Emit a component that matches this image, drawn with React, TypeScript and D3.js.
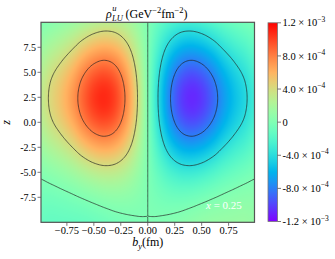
import React, { useMemo } from "react";
import * as d3 from "d3";

// grid coordinates of the field
const bGrid = [-1.0, -0.9, -0.8, -0.7, -0.6, -0.5, -0.4, -0.3, -0.2, -0.1, 0, 0.1, 0.2, 0.3, 0.4, 0.5, 0.6, 0.7, 0.8, 0.9, 1.0];
const zGrid = [10, 9, 8, 7, 6, 5, 4, 3, 2, 1, 0, -1, -2, -3, -4, -5, -6, -7, -8, -9, -10];

// rho^u_LU values in units of 1e-4 GeV^-2 fm^-2, rows follow zGrid, columns follow bGrid
const rhoLU = [
  [0.18, 0.51, 0.91, 1.41, 2.04, 2.6, 2.92, 2.82, 2.25, 1.25, 0, -1.25, -2.25, -2.82, -2.92, -2.6, -2.04, -1.41, -0.91, -0.51, -0.18],
  [0.61, 1.11, 1.65, 2.31, 3.14, 3.83, 4.17, 3.96, 3.12, 1.72, 0, -1.72, -3.12, -3.96, -4.17, -3.83, -3.14, -2.31, -1.65, -1.11, -0.61],
  [1.09, 1.78, 2.45, 3.29, 4.33, 5.17, 5.53, 5.2, 4.06, 2.24, 0, -2.24, -4.06, -5.2, -5.53, -5.17, -4.33, -3.29, -2.45, -1.78, -1.09],
  [1.58, 2.45, 3.27, 4.28, 5.55, 6.53, 6.93, 6.46, 5.03, 2.76, 0, -2.76, -5.03, -6.46, -6.93, -6.53, -5.55, -4.28, -3.27, -2.45, -1.58],
  [2.04, 3.09, 4.05, 5.23, 6.7, 7.82, 8.25, 7.66, 5.94, 3.25, 0, -3.25, -5.94, -7.66, -8.25, -7.82, -6.7, -5.23, -4.05, -3.09, -2.04],
  [2.43, 3.64, 4.72, 6.04, 7.69, 8.93, 9.38, 8.68, 6.72, 3.68, 0, -3.68, -6.72, -8.68, -9.38, -8.93, -7.69, -6.04, -4.72, -3.64, -2.43],
  [2.71, 4.05, 5.22, 6.64, 8.42, 9.76, 10.22, 9.45, 7.3, 3.99, 0, -3.99, -7.3, -9.45, -10.22, -9.76, -8.42, -6.64, -5.22, -4.05, -2.71],
  [2.89, 4.28, 5.49, 6.98, 8.83, 10.22, 10.69, 9.87, 7.63, 4.17, 0, -4.17, -7.63, -9.87, -10.69, -10.22, -8.83, -6.98, -5.49, -4.28, -2.89],
  [2.9, 4.3, 5.52, 7.01, 8.87, 10.26, 10.73, 9.91, 7.66, 4.18, 0, -4.18, -7.66, -9.91, -10.73, -10.26, -8.87, -7.01, -5.52, -4.3, -2.9],
  [2.77, 4.11, 5.29, 6.73, 8.53, 9.88, 10.35, 9.56, 7.39, 4.04, 0, -4.04, -7.39, -9.56, -10.35, -9.88, -8.53, -6.73, -5.29, -4.11, -2.77],
  [2.5, 3.74, 4.83, 6.18, 7.86, 9.12, 9.57, 8.86, 6.86, 3.75, 0, -3.75, -6.86, -8.86, -9.57, -9.12, -7.86, -6.18, -4.83, -3.74, -2.5],
  [2.12, 3.21, 4.19, 5.4, 6.91, 8.06, 8.49, 7.88, 6.11, 3.34, 0, -3.34, -6.11, -7.88, -8.49, -8.06, -6.91, -5.4, -4.19, -3.21, -2.12],
  [1.67, 2.59, 3.43, 4.48, 5.78, 6.8, 7.2, 6.71, 5.22, 2.86, 0, -2.86, -5.22, -6.71, -7.2, -6.8, -5.78, -4.48, -3.43, -2.59, -1.67],
  [1.19, 1.91, 2.61, 3.49, 4.57, 5.44, 5.81, 5.45, 4.26, 2.34, 0, -2.34, -4.26, -5.45, -5.81, -5.44, -4.57, -3.49, -2.61, -1.91, -1.19],
  [0.7, 1.25, 1.8, 2.5, 3.37, 4.09, 4.44, 4.2, 3.31, 1.82, 0, -1.82, -3.31, -4.2, -4.44, -4.09, -3.37, -2.5, -1.8, -1.25, -0.7],
  [0.26, 0.63, 1.05, 1.58, 2.25, 2.84, 3.15, 3.04, 2.42, 1.34, 0, -1.34, -2.42, -3.04, -3.15, -2.84, -2.25, -1.58, -1.05, -0.63, -0.26],
  [-0.14, 0.08, 0.39, 0.77, 1.27, 1.73, 2.03, 2.02, 1.64, 0.92, 0, -0.92, -1.64, -2.02, -2.03, -1.73, -1.27, -0.77, -0.39, -0.08, 0.14],
  [-0.46, -0.38, -0.17, 0.1, 0.45, 0.81, 1.08, 1.16, 0.99, 0.57, 0, -0.57, -0.99, -1.16, -1.08, -0.81, -0.45, -0.1, 0.17, 0.38, 0.46],
  [-0.73, -0.74, -0.62, -0.44, -0.21, 0.07, 0.33, 0.48, 0.47, 0.29, 0, -0.29, -0.47, -0.48, -0.33, -0.07, 0.21, 0.44, 0.62, 0.74, 0.73],
  [-0.92, -1.03, -0.95, -0.85, -0.71, -0.49, -0.24, -0.03, 0.07, 0.07, 0, -0.07, -0.07, 0.03, 0.24, 0.49, 0.71, 0.85, 0.95, 1.03, 0.92],
  [-1.07, -1.23, -1.2, -1.15, -1.07, -0.89, -0.65, -0.41, -0.21, -0.08, 0, 0.08, 0.21, 0.41, 0.65, 0.89, 1.07, 1.15, 1.2, 1.23, 1.07],
];

const contourLevels = [-8, -4, 0, 4, 8];
const colorDomain = [-12, 12];

const xTicks = [-0.75, -0.5, -0.25, 0, 0.25, 0.5, 0.75];
const xTickLabels = ["\u22120.75", "\u22120.50", "\u22120.25", "0.00", "0.25", "0.50", "0.75"];
const yTicks = [7.5, 5, 2.5, 0, -2.5, -5, -7.5];
const yTickLabels = ["7.5", "5.0", "2.5", "0.0", "-2.5", "-5.0", "-7.5"];

const cbTicks = [12, 8, 4, 0, -4, -8, -12];
const cbMantissa = ["1.2", "8.0", "4.0", "0", "-4.0", "-8.0", "-1.2"];
const cbExponent = ["\u22123", "\u22124", "\u22124", "", "\u22124", "\u22124", "\u22123"];

const W = 335;
const H = 259;
const PL = 41;
const PR = 254.5;
const PT = 22.3;
const PB = 222.3;
const CBX = 268;
const CBW = 9.5;
const FONT = "'Liberation Serif', 'Times New Roman', serif";

function rainbow(t: number): [number, number, number] {
  const u = Math.max(0, Math.min(1, t));
  const r = Math.min(1, Math.abs(2 * u - 0.5));
  const g = Math.sin(Math.PI * u);
  const b = Math.cos((Math.PI * u) / 2);
  return [Math.round(r * 255), Math.round(g * 255), Math.round(b * 255)];
}

const nx = bGrid.length;
const ny = zGrid.length;

function at(i: number, j: number) {
  const ii = Math.max(0, Math.min(nx - 1, i));
  const jj = Math.max(0, Math.min(ny - 1, j));
  return rhoLU[jj][ii];
}
function cr(p0: number, p1: number, p2: number, p3: number, t: number) {
  return p1 + 0.5 * t * (p2 - p0 + t * (2 * p0 - 5 * p1 + 4 * p2 - p3 + t * (3 * (p1 - p2) + p3 - p0)));
}
function sample(fx: number, fy: number) {
  const ix = Math.floor(fx);
  const iy = Math.floor(fy);
  const tx = fx - ix;
  const ty = fy - iy;
  const r = [-1, 0, 1, 2].map((dj) =>
    cr(at(ix - 1, iy + dj), at(ix, iy + dj), at(ix + 1, iy + dj), at(ix + 2, iy + dj), tx)
  );
  return cr(r[0], r[1], r[2], r[3], ty);
}

export default function App() {
  const x = d3.scaleLinear().domain([-0.99, 0.99]).range([PL, PR]);
  const y = d3.scaleLinear().domain([-10, 10]).range([PB, PT]);
  const bIdx = d3.scaleLinear().domain([bGrid[0], bGrid[nx - 1]]).range([0, nx - 1]);
  const zIdx = d3.scaleLinear().domain([zGrid[0], zGrid[ny - 1]]).range([0, ny - 1]);
  const cNorm = d3.scaleLinear().domain(colorDomain).range([0, 1]);
  const cbY = d3.scaleLinear().domain(colorDomain).range([PB - 0.8, PT + 0.5]);

  const imgUrl = useMemo(() => {
    const w = Math.ceil(PR - PL);
    const h = Math.ceil(PB - PT);
    const canvas = document.createElement("canvas");
    canvas.width = w;
    canvas.height = h;
    const ctx = canvas.getContext("2d");
    if (!ctx) return "";
    const img = ctx.createImageData(w, h);
    for (let py = 0; py < h; py++) {
      const zv = y.invert(PT + ((py + 0.5) * (PB - PT)) / h);
      const fy = zIdx(zv);
      for (let px = 0; px < w; px++) {
        const bv = x.invert(PL + ((px + 0.5) * (PR - PL)) / w);
        const v = sample(bIdx(bv), fy);
        const [r, g, b] = rainbow(cNorm(v));
        const k = (py * w + px) * 4;
        img.data[k] = r;
        img.data[k + 1] = g;
        img.data[k + 2] = b;
        img.data[k + 3] = 255;
      }
    }
    ctx.putImageData(img, 0, 0);
    return canvas.toDataURL();
  }, []);

  const contourPaths = useMemo(() => {
    const k = 8;
    const mx = (nx - 1) * k + 1;
    const my = (ny - 1) * k + 1;
    const vals = new Array(mx * my);
    for (let j = 0; j < my; j++) for (let i = 0; i < mx; i++) vals[j * mx + i] = sample(i / k, j / k);
    const gen = d3.contours().size([mx, my]).thresholds(contourLevels);
    const cs = gen(vals);
    return cs.map((c) => {
      let d = "";
      for (const poly of c.coordinates)
        for (const ring of poly) {
          ring.forEach((p, idx) => {
            const bv = bIdx.invert((p[0] - 0.5) / k);
            const zv = zIdx.invert((p[1] - 0.5) / k);
            d += (idx === 0 ? "M" : "L") + x(bv).toFixed(2) + "," + y(zv).toFixed(2);
          });
          d += "Z";
        }
      return d;
    });
  }, []);

  const stops = d3.range(0, 1.0001, 0.05).map((t) => {
    const [r, g, b] = rainbow(t);
    return { off: t, col: `rgb(${r},${g},${b})` };
  });

  const axisColor = "#555";

  return (
    <svg width={W} height={H} style={{ position: "absolute", left: 0, top: 0, background: "#fff" }} fontFamily={FONT}>
      <defs>
        <clipPath id="plotClip">
          <rect x={PL} y={PT} width={PR - PL} height={PB - PT} />
        </clipPath>
        <linearGradient id="cbGrad" x1="0" y1="1" x2="0" y2="0">
          {stops.map((s, i) => (
            <stop key={i} offset={s.off} stopColor={s.col} />
          ))}
        </linearGradient>
      </defs>

      <image href={imgUrl} x={PL} y={PT} width={PR - PL} height={PB - PT} preserveAspectRatio="none" />
      <g clipPath="url(#plotClip)">
        {contourPaths.map((d, i) => (
          <path key={i} d={d} fill="none" stroke="#222" strokeWidth={0.8} strokeOpacity={0.85} />
        ))}
      </g>
      <rect x={PL} y={PT} width={PR - PL} height={PB - PT} fill="none" stroke={axisColor} strokeWidth={1.2} />

      {/* x ticks */}
      {xTicks.map((t, i) => (
        <g key={i}>
          <line x1={x(t)} x2={x(t)} y1={PB} y2={PB + 3.5} stroke={axisColor} strokeWidth={0.8} />
          <text x={x(t)} y={PB + 12} fontSize={10.5} textAnchor="middle" fill="#000">
            {xTickLabels[i]}
          </text>
        </g>
      ))}
      {/* y ticks */}
      {yTicks.map((t, i) => (
        <g key={i}>
          <line x1={PL - 3.5} x2={PL} y1={y(t)} y2={y(t)} stroke={axisColor} strokeWidth={0.8} />
          <text x={PL - 5} y={y(t) + 3.5} fontSize={10} textAnchor="end" fill="#000">
            {yTickLabels[i]}
          </text>
        </g>
      ))}

      {/* axis labels */}
      <text x={(PL + PR) / 2} y={246} fontSize={12} textAnchor="middle" fill="#000">
        <tspan fontStyle="italic">b</tspan>
        <tspan fontStyle="italic" fontSize={8.5} dy={2.5}>y</tspan>
        <tspan dy={-2.5}>(fm)</tspan>
      </text>
      <text transform={`translate(10,${(PT + PB) / 2}) rotate(-90)`} fontSize={12} fontStyle="italic" textAnchor="middle" fill="#000">
        z
      </text>

      {/* title */}
      <text x={106} y={17.5} fontSize={12} fontStyle="italic" fill="#000">ρ</text>
      <text x={112.3} y={10.5} fontSize={8.5} fontStyle="italic" fill="#000">u</text>
      <text x={112} y={20.5} fontSize={8.5} fontStyle="italic" fill="#000">LU</text>
      <text x={125.5} y={17.5} fontSize={12} fill="#000">
        (GeV
        <tspan fontSize={8.5} dy={-5}>{"\u22122"}</tspan>
        <tspan dy={5}>fm</tspan>
        <tspan fontSize={8.5} dy={-5}>{"\u22122"}</tspan>
        <tspan dy={5}>)</tspan>
      </text>

      {/* annotation */}
      <text x={206} y={208.5} fontSize={11} fill="#fff">
        <tspan fontStyle="italic">x</tspan>
        <tspan> = 0.25</tspan>
      </text>

      {/* colorbar */}
      <rect x={CBX} y={cbY(12)} width={CBW} height={cbY(-12) - cbY(12)} fill="url(#cbGrad)" stroke="#777" strokeWidth={0.8} />
      {cbTicks.map((t, i) => (
        <g key={i}>
          <line x1={CBX + CBW} x2={CBX + CBW + 3.5} y1={cbY(t)} y2={cbY(t)} stroke={axisColor} strokeWidth={0.8} />
          <text x={CBX + CBW + 5} y={cbY(t) + 3.6} fontSize={10.5} fill="#000">
            {cbMantissa[i]}
            {cbExponent[i] !== "" ? " \u00d7 10" : ""}
            {cbExponent[i] !== "" ? (
              <tspan fontSize={7.5} dy={-4.5}>
                {cbExponent[i]}
              </tspan>
            ) : null}
          </text>
        </g>
      ))}
    </svg>
  );
}
